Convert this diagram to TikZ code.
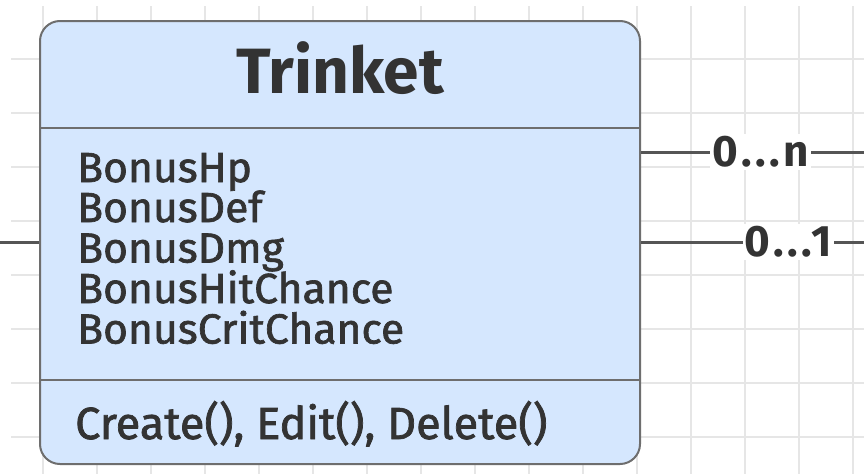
\documentclass[tikz,border=0pt]{standalone}
\usepackage{fontspec}
\setmainfont{Fira Sans}
\newfontfamily\medfont[FakeBold=1.6]{Fira Sans}
\newfontfamily\attrfont[FakeBold=1.6,FakeStretch=1.015]{Fira Sans}
\newfontfamily\labfont[LetterSpace=8]{Fira Sans}
\definecolor{gridc}{HTML}{E6E6E6}
\definecolor{boxfill}{HTML}{D5E7FE}
\definecolor{boxline}{HTML}{6E6E6E}
\definecolor{txt}{HTML}{333333}
\definecolor{conn}{HTML}{555555}
\tikzset{
  gridline/.style={gridc, line width=1.5pt},
  classbox/.style={draw=boxline, fill=boxfill, line width=2pt, rounded corners=20pt, minimum width=600pt, minimum height=443pt, inner sep=0pt},
  sepline/.style={boxline, line width=2pt},
  titletext/.style={text=txt, font=\fontsize{64}{70}\selectfont\bfseries, inner sep=0pt},
  attrtext/.style={text=txt, font=\attrfont\fontsize{42}{42}\selectfont, inner sep=0pt, anchor=base west},
  methtext/.style={text=txt, font=\medfont\fontsize{45}{45}\selectfont, inner sep=0pt, anchor=base west},
  connector/.style={conn, line width=3pt},
  multlabel/.style={text=txt, fill=white, font=\labfont\fontsize{44}{44}\selectfont\bfseries, inner sep=2pt}
}
\begin{document}
\begin{tikzpicture}[x=1pt,y=-1pt]
\useasboundingbox (0,0) rectangle (864,474);
\fill[white] (0,0) rectangle (864,474);
% grid
\foreach \gx in {43,97,...,864} \draw[gridline] (\gx,6) -- (\gx,474);
\foreach \gy in {59,113,...,474} \draw[gridline] (11,\gy) -- (864,\gy);
% class box
\node[classbox] (cls) at (340,242.5) {};
\draw[sepline] (cls.west |- 0,127.5) -- (cls.east |- 0,127.5);
\draw[sepline] (cls.west |- 0,379.5) -- (cls.east |- 0,379.5);
\node[titletext, anchor=base] (title) at (340,93) {Trinket};
\node[attrtext] (a1) at (77,182) {BonusHp};
\node[attrtext] (a2) at (77,222) {BonusDef};
\node[attrtext] (a3) at (77,262.5) {BonusDmg};
\node[attrtext] (a4) at (77,303) {BonusHitChance};
\node[attrtext] (a5) at (77,343.5) {BonusCritChance};
\node[methtext] (m1) at (75,439) {Create(), Edit(), Delete()};
% connectors
\coordinate (r1) at (864,152);
\coordinate (r2) at (864,242);
\coordinate (l1) at (0,242);
\draw[connector] (cls.east |- r1) -- node[multlabel, pos=0.536] (lab1) {0...n} (r1);
\draw[connector] (cls.east |- r2) -- node[multlabel, pos=0.66] (lab2) {0...1} (r2);
\draw[connector] (l1) -- (cls.west |- l1);
\end{tikzpicture}
\end{document}
